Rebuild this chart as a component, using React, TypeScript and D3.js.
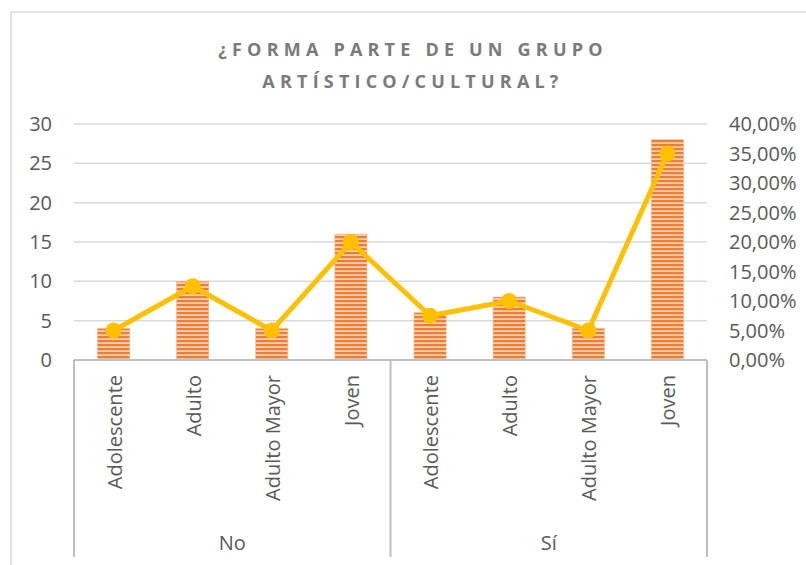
import React from "react";
import * as d3 from "d3";

const groups = ["No", "Sí"];
const ages = ["Adolescente", "Adulto", "Adulto Mayor", "Joven"];
const countsNo = [4, 10, 4, 16];
const countsSi = [6, 8, 4, 28];
const pctNo = [0.05, 0.125, 0.05, 0.2];
const pctSi = [0.075, 0.1, 0.05, 0.35];
const leftTicks = [0, 5, 10, 15, 20, 25, 30];
const rightTicks = [0, 0.05, 0.1, 0.15, 0.2, 0.25, 0.3, 0.35, 0.4];
const titleLines = ["¿FORMA PARTE DE UN GRUPO", "ARTÍSTICO/CULTURAL?"];

const W = 806, H = 565;
const plotL = 74, plotR = 707, plotT = 124, plotB = 360;

export default function App() {
  const rows = [
    ...ages.map((a, i) => ({ g: groups[0], a, c: countsNo[i], p: pctNo[i], key: "No-" + a })),
    ...ages.map((a, i) => ({ g: groups[1], a, c: countsSi[i], p: pctSi[i], key: "Si-" + a })),
  ];
  const x = d3.scaleBand<string>().domain(rows.map(r => r.key)).range([plotL, plotR]).paddingInner(0.595).paddingOuter(0.2975);
  const xc = (k: string) => (x(k) as number) + x.bandwidth() / 2;
  const yL = d3.scaleLinear().domain([0, 30]).range([plotB, plotT]);
  const yR = d3.scaleLinear().domain([0, 0.4]).range([plotB, plotT]);
  const line = d3.line<any>().x(r => xc(r.key)).y(r => yR(r.p));
  const step = (plotR - plotL) / rows.length;
  const font = "'Open Sans', sans-serif";
  return (
    <svg width={W} height={H} style={{ position: "absolute", left: 0, top: 0, background: "#fff" }}>
      <defs>
        <pattern id="stripes" width="6" height="4" patternUnits="userSpaceOnUse">
          <rect width="6" height="4" fill="#F9CFB2" />
          <rect width="6" height="2.2" fill="#ED7D31" />
        </pattern>
      </defs>
      <rect x={11} y={12} width={W} height={H} fill="#fff" stroke="#d9d9d9" strokeWidth={1.5} />
      {titleLines.map((t, i) => (
        <text key={t} x={413} y={56 + i * 32} textAnchor="middle" fontFamily={font} fontWeight="bold" fontSize={18} letterSpacing={5.2} fill="#7a7a7a">{t}</text>
      ))}
      {leftTicks.filter(t => t > 0).map(t => (
        <line key={t} x1={plotL} x2={plotR} y1={yL(t)} y2={yL(t)} stroke="#d9d9d9" strokeWidth={1.5} />
      ))}
      {rows.map(r => (
        <rect key={r.key} x={x(r.key)} y={yL(r.c)} width={x.bandwidth()} height={plotB - yL(r.c)} fill="url(#stripes)" stroke="#F4B183" strokeWidth={0.6} />
      ))}
      <line x1={plotL} x2={plotR} y1={plotB} y2={plotB} stroke="#bfbfbf" strokeWidth={2} />
      {[0, 4, 8].map(i => (
        <line key={i} x1={plotL + i * step} x2={plotL + i * step} y1={plotB} y2={557} stroke="#bfbfbf" strokeWidth={2} />
      ))}
      <path d={line(rows) as string} fill="none" stroke="#FFC000" strokeWidth={5} strokeLinejoin="round" />
      {rows.map(r => (
        <circle key={r.key} cx={xc(r.key)} cy={yR(r.p)} r={8} fill="#FFC000" />
      ))}
      {leftTicks.map(t => (
        <text key={t} x={52} y={yL(t) + 7} textAnchor="end" fontFamily={font} fontSize={20} fill="#595959">{t}</text>
      ))}
      {rightTicks.map(t => (
        <text key={t} x={729} y={yR(t) + 7} textAnchor="start" fontFamily={font} fontSize={20} fill="#595959">{d3.format(".2f")(t * 100).replace(".", ",") + "%"}</text>
      ))}
      {rows.map(r => (
        <text key={r.key} transform={`translate(${xc(r.key) + 8},375) rotate(-90)`} textAnchor="end" fontFamily={font} fontSize={20} fill="#595959">{r.a}</text>
      ))}
      {groups.map((g, i) => (
        <text key={g} x={plotL + (i * 4 + 2) * step} y={550} textAnchor="middle" fontFamily={font} fontSize={20} fill="#595959">{g}</text>
      ))}
    </svg>
  );
}
